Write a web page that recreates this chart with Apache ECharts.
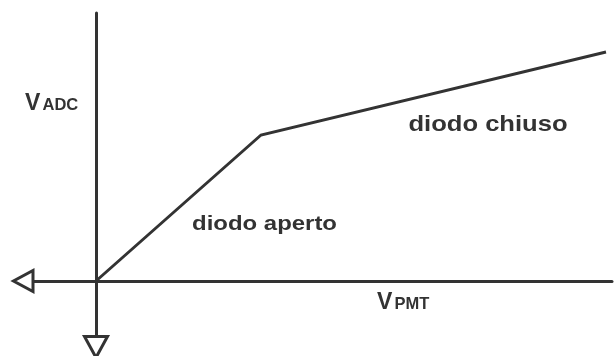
<!DOCTYPE html>
<html>
<head>
<meta charset="utf-8">
<script src="https://cdn.jsdelivr.net/npm/echarts@6/dist/echarts.min.js"></script>
<style>
html,body{margin:0;padding:0;background:#fff;}
#c{width:616px;height:356px;}
</style>
</head>
<body>
<div id="c"></div>
<script>
// Schematic transfer characteristic (arbitrary units)
const curveX = [0, 16.5, 51.0];
const curveY = [0, 14.6, 22.9];

// Axis extents (arbitrary units)
const xMin = -6.2, xMax = 51.6;
const yMin = -5.5, yMax = 26.8;

// Region labels
const regionTexts = ['diodo aperto', 'diodo chiuso'];
const regionX = [16.85, 39.2];
const regionY = [5.7, 15.6];

// Axis titles: main letter + small-caps subscript
const axisMain = ['V', 'V'];
const axisSub = ['ADC', 'PMT'];
const axisTitleX = [-7.1, 28.1];
const axisTitleY = [17.75, -2.15];

const INK = '#333333';
const FONT = '"Liberation Sans", Arial, sans-serif';

const chart = echarts.init(document.getElementById('c'), null, {renderer: 'canvas'});

const option = {
  animation: false,
  backgroundColor: '#ffffff',
  grid: {left: 34, right: 4, top: 13, bottom: 20, containLabel: false},
  xAxis: {
    type: 'value', min: xMin, max: xMax,
    axisLine: {show: true, onZero: true, lineStyle: {color: INK, width: 3}},
    axisTick: {show: false}, axisLabel: {show: false}, splitLine: {show: false}
  },
  yAxis: {
    type: 'value', min: yMin, max: yMax,
    axisLine: {show: true, onZero: true, lineStyle: {color: INK, width: 3}},
    axisTick: {show: false}, axisLabel: {show: false}, splitLine: {show: false}
  },
  series: [
    {
      type: 'line',
      data: curveX.map((x, i) => [x, curveY[i]]),
      symbol: 'none',
      lineStyle: {color: INK, width: 3, join: 'miter'},
      z: 3
    },
    {
      // hollow arrow heads at the negative ends of the axes
      type: 'custom',
      clip: false,
      data: [[xMin, yMin]],
      renderItem: function (params, api) {
        const left = api.coord([api.value(0), 0]);
        const bottom = api.coord([0, api.value(1)]);
        const style = {fill: '#ffffff', stroke: INK, lineWidth: 3, lineJoin: 'miter'};
        return {
          type: 'group',
          children: [
            {type: 'polygon', shape: {points: [
              [left[0] - 1, left[1] - 10.5], [left[0] - 1, left[1] + 10.5], [left[0] - 20.5, left[1]]
            ]}, style: style},
            {type: 'polygon', shape: {points: [
              [bottom[0] - 11.5, bottom[1] + 0.5], [bottom[0] + 11.5, bottom[1] + 0.5], [bottom[0], bottom[1] + 21.5]
            ]}, style: style}
          ]
        };
      },
      z: 4
    },
    {
      // region labels
      type: 'custom',
      clip: false,
      data: regionX.map((x, i) => [x, regionY[i]]),
      renderItem: function (params, api) {
        const p = api.coord([api.value(0), api.value(1)]);
        const i = params.dataIndex;
        return {
          type: 'text',
          x: p[0], y: p[1],
          scaleX: i === 0 ? 1.14 : 1.19,
          style: {
            text: regionTexts[i],
            fontFamily: FONT, fontWeight: 'bold', fontSize: i === 0 ? 21 : 21.5,
            fill: INK, align: 'center', verticalAlign: 'middle'
          }
        };
      },
      z: 5
    },
    {
      // axis titles (large V followed by smaller capitals on the same baseline)
      type: 'custom',
      clip: false,
      data: axisTitleX.map((x, i) => [x, axisTitleY[i]]),
      renderItem: function (params, api) {
        const i = params.dataIndex;
        const p = api.coord([api.value(0), api.value(1)]);
        return {
          type: 'group',
          x: p[0], y: p[1],
          children: [
            {type: 'text', x: 0, y: 0, style: {
              text: axisMain[i], fontFamily: FONT, fontWeight: 'bold', fontSize: 23,
              fill: INK, align: 'left', verticalAlign: 'middle'}},
            {type: 'text', x: 17.5, y: 2.3, style: {
              text: axisSub[i], fontFamily: FONT, fontWeight: 'bold', fontSize: 16.5,
              fill: INK, align: 'left', verticalAlign: 'middle'}}
          ]
        };
      },
      z: 5
    }
  ]
};
chart.setOption(option);
</script>
</body>
</html>
